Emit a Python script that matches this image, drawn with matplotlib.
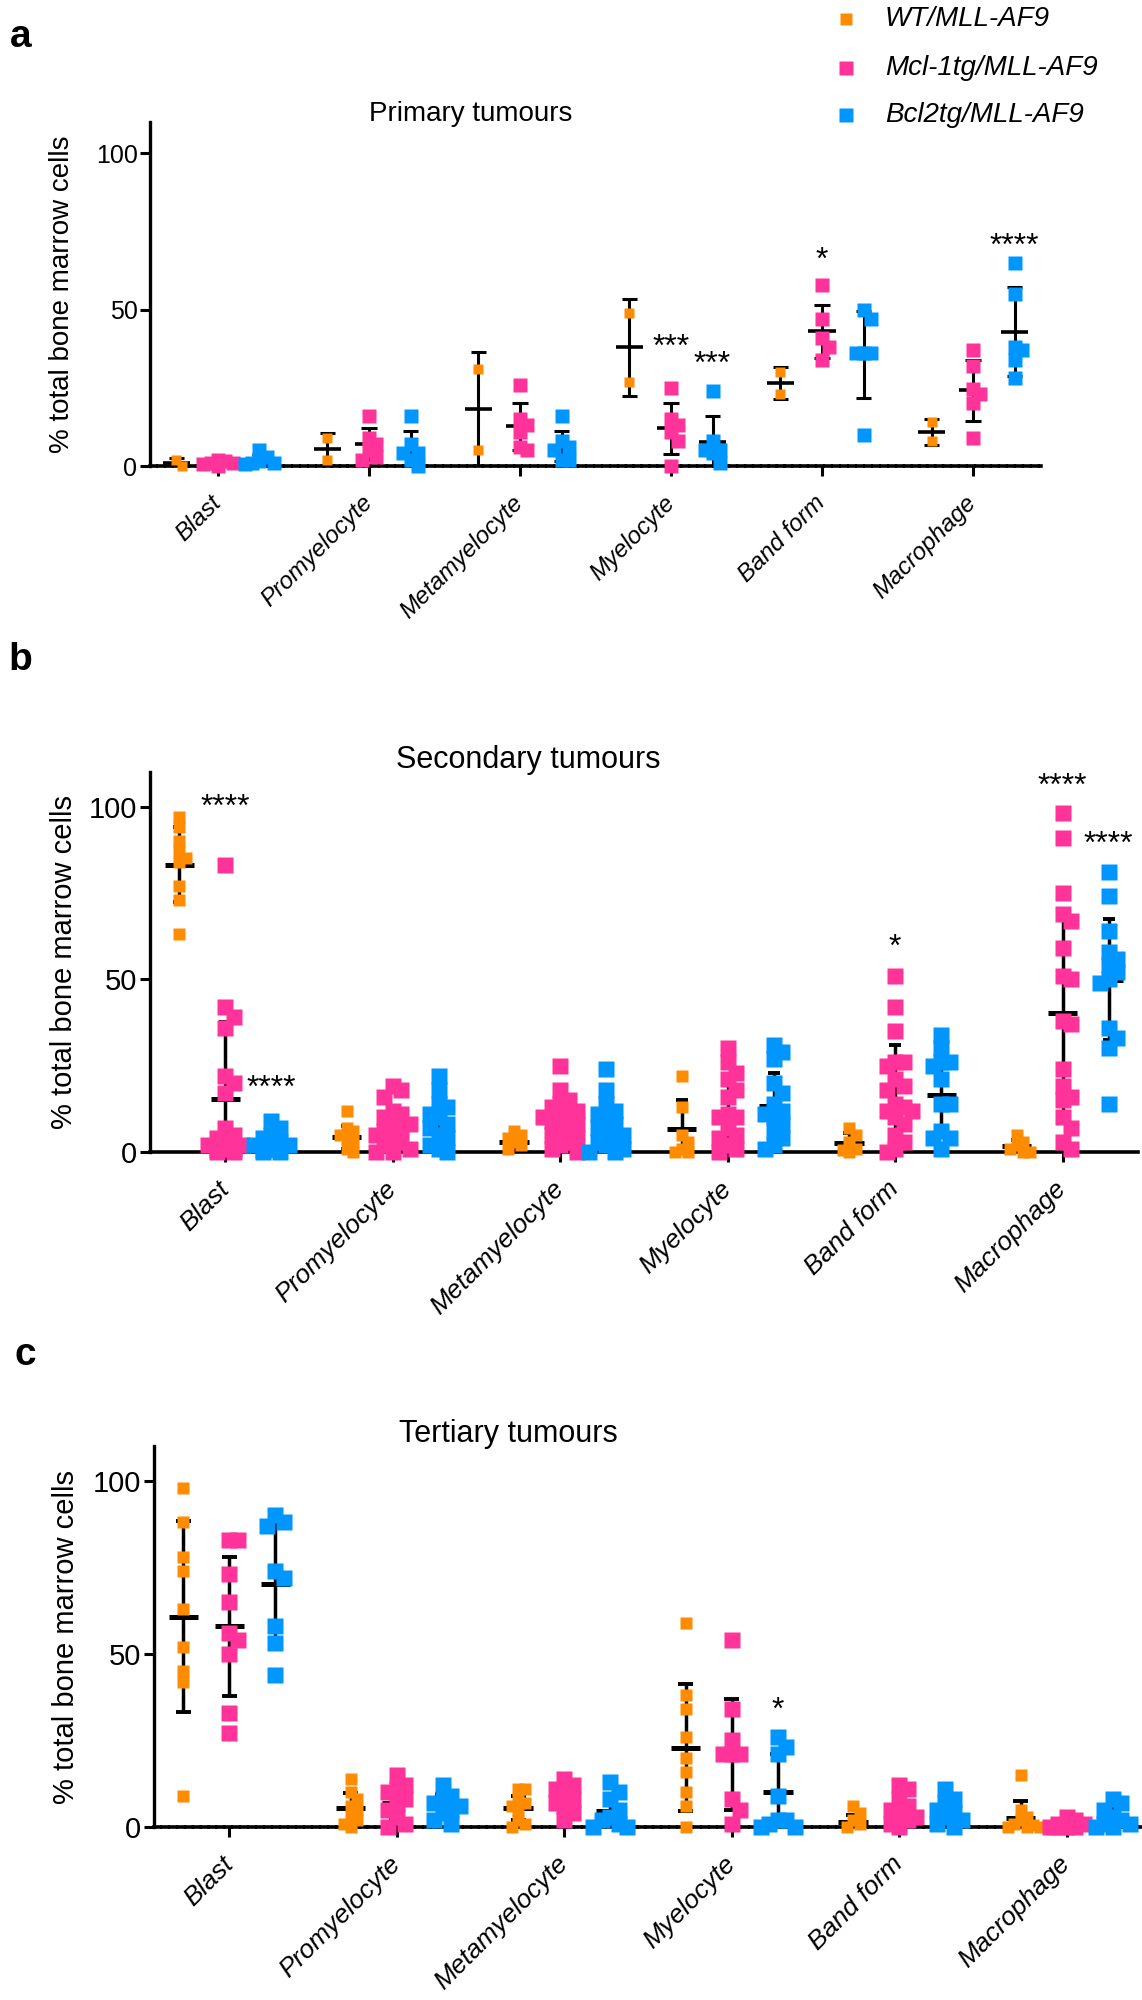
import numpy as np
import matplotlib.pyplot as plt
from matplotlib.lines import Line2D
from matplotlib.transforms import ScaledTranslation

plt.rcParams['font.family'] = ['Liberation Sans', 'DejaVu Sans']

cells = ['Blast', 'Promyelocyte', 'Metamyelocyte', 'Myelocyte', 'Band form', 'Macrophage']
genotypes = ['WT/MLL-AF9', 'Mcl-1tg/MLL-AF9', 'Bcl2tg/MLL-AF9']
colours = ['#FF8C00', '#FF3399', '#0096FF']

# ---- a: primary tumours, % of bone marrow cells per mouse
prim_wt = [[0, 2], [9, 2], [31, 5], [49, 27], [30, 23], [14, 8]]
prim_mcl = [[2, 1.5, 1, 1, 0.5, 0], [16, 9, 7, 5, 3, 2], [26, 15, 13, 11, 6, 5],
            [25, 15, 13, 11, 8, 0], [58, 47, 41, 38, 34], [37, 32, 24.5, 23, 20, 9]]
prim_bcl = [[5, 3, 1.5, 1, 1, 0.5], [16, 7, 4, 4, 2, 0], [16, 8, 6, 5, 2, 2],
            [24, 8, 5, 5, 4, 1], [50, 47, 36, 36, 36, 10], [65, 55, 38, 37, 34, 28]]
prim_mean = [[1, 5.5, 18.1, 37.9, 26.5, 10.9],
             [1, 7, 12.7, 12, 43.1, 24.2],
             [2, 5.5, 6.5, 7.7, 35.7, 42.9]]
prim_sd = [[1.4, 5.1, 18.4, 15.6, 5.1, 4.2],
           [0.8, 5, 7.6, 8.2, 8.5, 9.8],
           [1.7, 5.6, 4.8, 8.4, 14, 14.2]]
prim_stars = [('***', 3, 1, 40.8), ('***', 3, 2, 35.3), ('*', 4, 1, 68.8), ('****', 5, 2, 73)]

# ---- b: secondary tumours
sec_wt = [[97, 94, 90, 87, 85, 84, 77, 73, 63], [12, 7, 6, 5, 4, 3, 1, 0], [6, 5, 4, 3, 2, 1],
          [22, 13, 5, 3, 1, 0, 0], [7, 5, 3, 1, 0.5, 0], [5, 3, 2, 1, 0, 0]]
sec_mcl = [[83, 42, 39, 36, 22, 20, 17, 7, 5, 4, 3, 2, 2, 1, 1, 0.5, 0, 0],
           [19, 18, 16, 12, 11, 10, 8, 8, 7, 6, 5, 4, 3, 2, 1, 0, 0],
           [25, 18, 15, 14, 13, 12, 11, 10, 10, 9, 8, 7, 6, 5, 4, 3, 2, 1, 0],
           [30, 26, 23, 21, 18, 16, 11, 10, 10, 7, 5, 4, 2, 1, 0],
           [51, 42, 35, 26, 26, 25, 21, 19, 18, 14, 13, 12, 12, 10, 8, 5, 3, 1, 0],
           [98, 91, 75, 69, 67, 59, 51, 50, 38, 37, 24, 19, 16, 15, 10, 7, 3, 1]]
sec_bcl = [[9, 7, 5, 4, 3, 2, 2, 1, 1, 0.5, 0, 0],
           [22, 18, 14, 13, 11, 10, 8, 7, 5, 4, 2, 1, 0],
           [24, 18, 14, 12, 11, 10, 8, 7, 6, 5, 4, 3, 2, 1, 0, 0],
           [31, 29, 27, 20, 17, 14, 12, 11, 10, 8, 6, 4, 2, 1],
           [34, 30, 26, 26, 25, 21, 14, 14, 6, 4, 4, 1],
           [81, 74, 64, 58, 56, 54, 52, 50, 49, 36, 33, 30, 14]]
sec_mean = [[83.2, 4.2, 3, 6.6, 2.7, 1.6],
            [15.3, 7.2, 8.5, 11, 18.1, 40.3],
            [2.5, 7.6, 7.3, 13.3, 16.5, 49.9]]
sec_sd = [[10.8, 3.3, 2, 8.4, 2.8, 1.8],
          [22.4, 5.7, 5.6, 9, 13, 29.6],
          [3, 6.4, 6.9, 9.5, 11, 17.6]]
sec_stars = [('****', 0, 1, 102.4), ('****', 0, 2, 21), ('*', 4, 1, 61.8),
             ('****', 5, 1, 108.5), ('****', 5, 2, 91.6)]

# ---- c: tertiary tumours
ter_wt = [[98, 88, 78, 74, 63, 52, 45, 42, 9], [14, 10, 8, 6, 5, 3, 2, 1, 0],
          [11, 11, 8, 7, 6, 5, 2, 1, 0], [59, 38, 34, 26, 20, 16, 10, 6, 0],
          [6, 4, 2, 1, 0], [15, 5, 3, 2, 1, 0.5, 0, 0, 0]]
ter_mcl = [[83, 83, 73, 65, 56, 54, 50, 33, 27], [15, 12, 11, 10, 8, 7, 5, 3, 1, 0],
           [14, 12, 11, 10, 8, 7, 6, 4, 2], [54, 34, 25, 21, 21, 21, 8, 5, 1],
           [12, 11, 8, 6, 5, 4, 3, 2, 1, 0], [3, 2, 1, 1, 0, 0, 0, 0]]
ter_bcl = [[90, 88, 87, 74, 72, 58, 53, 44], [12, 9, 8, 7, 6, 5, 4, 2, 1],
           [13, 10, 8, 5, 3, 2, 1, 0, 0], [26, 23, 21, 9, 2, 2, 1, 0, 0],
           [11, 8, 7, 5, 4, 3, 2, 1, 0], [8, 7, 5, 3, 2, 1, 1, 0, 0]]
ter_mean = [[60.7, 5.4, 5.5, 22.9, 1.5, 2.7],
            [57.9, 7, 8.2, 20.9, 4.5, 1],
            [70.3, 6.3, 4.6, 10.2, 4, 3]]
ter_sd = [[27.6, 4.5, 3.5, 18.4, 2, 4.8],
          [20, 4.5, 4.3, 16, 4, 1.2],
          [17, 3.3, 4.5, 11, 3.8, 2.8]]
ter_stars = [('*', 3, 2, 36.2)]

W, H = 1142, 2000
fig = plt.figure(figsize=(W / 100, H / 100), dpi=100)

panels = [
    dict(letter='a', title='Primary tumours', data=(prim_wt, prim_mcl, prim_bcl),
         mean=prim_mean, sd=prim_sd, stars=prim_stars, dotted=True,
         box=(150, 122, 1041, 466), ms=(7.6, 9.7, 9.7), tick_fs=18, cell_fs=17.5,
         lab_fs=20, title_fs=20, title_xy=(471, 121), ylab_x=62, letter_xy=(10, 47),
         mean_w=0.09, mean_lw=2.6, bar_lw=2.2, cap_w=0.05, cap_lw=2.2),
    dict(letter='b', title='Secondary tumours', data=(sec_wt, sec_mcl, sec_bcl),
         mean=sec_mean, sd=sec_sd, stars=sec_stars, dotted=False,
         box=(150, 772, 1138, 1152), ms=(8.6, 11.2, 11.2), tick_fs=21, cell_fs=19,
         lab_fs=21, title_fs=22, title_xy=(528, 768), ylab_x=64, letter_xy=(8, 670),
         mean_w=0.088, mean_lw=3.6, bar_lw=2.5, cap_w=0.035, cap_lw=2.8),
    dict(letter='c', title='Tertiary tumours', data=(ter_wt, ter_mcl, ter_bcl),
         mean=ter_mean, sd=ter_sd, stars=ter_stars, dotted=True,
         box=(154, 1446, 1142, 1827), ms=(8.4, 11.2, 11.2), tick_fs=21, cell_fs=19,
         lab_fs=21, title_fs=22, title_xy=(508, 1442), ylab_x=66, letter_xy=(14, 1365),
         mean_w=0.088, mean_lw=3.6, bar_lw=2.5, cap_w=0.045, cap_lw=2.8),
]

group_off = 0.275
xmin, xmax, ymax = -0.45, 5.45, 110


def spread(vals, w, h, cap):
    # simple beeswarm: push overlapping squares sideways
    vals = np.asarray(vals, float)
    offs = np.zeros(len(vals))
    step = 0.55 * w
    cands = [0.0]
    k = 1
    while k * step <= cap:
        cands += [k * step, -k * step]
        k += 1
    placed = []
    for i in np.argsort(-vals, kind='stable'):
        best, best_hits = 0.0, None
        for c in cands:
            hits = sum(1 for j in placed
                       if abs(c - offs[j]) < 0.5 * w and abs(vals[i] - vals[j]) < 0.75 * h)
            if best_hits is None or hits < best_hits:
                best, best_hits = c, hits
            if hits == 0:
                break
        offs[i] = best
        placed.append(i)
    return offs


for p in panels:
    l, t, r, b = p['box']
    ax = fig.add_axes([l / W, 1 - b / H, (r - l) / W, (b - t) / H])
    xpx = (r - l) / (xmax - xmin)
    ypx = (b - t) / ymax

    for g in range(3):
        for i in range(6):
            x0 = i + (g - 1) * group_off
            m, s = p['mean'][g][i], p['sd'][g][i]
            ax.plot([x0 - p['mean_w'], x0 + p['mean_w']], [m, m], color='k',
                    lw=p['mean_lw'], solid_capstyle='butt', zorder=2)
            ax.plot([x0, x0], [m - s, m + s], color='k', lw=p['bar_lw'],
                    solid_capstyle='butt', zorder=2)
            for yy in (m - s, m + s):
                ax.plot([x0 - p['cap_w'], x0 + p['cap_w']], [yy, yy], color='k',
                        lw=p['cap_lw'], solid_capstyle='butt', zorder=2)

            vals = p['data'][g][i]
            mpx = p['ms'][g] * 100 / 72
            offs = spread(vals, mpx / xpx, mpx / ypx, 0.13)
            ax.plot(x0 + offs, vals, ls='none', marker='s', ms=p['ms'][g],
                    mfc=colours[g], mec='none', clip_on=False, zorder=3)

    for txt, i, g, yc in p['stars']:
        fs = 23
        ax.annotate(txt, (i + (g - 1) * group_off, yc), xytext=(0, -0.55 * fs),
                    textcoords='offset points', ha='center', va='baseline',
                    fontsize=fs, zorder=4)

    ax.set_xlim(xmin, xmax)
    ax.set_ylim(0, ymax)
    ax.set_yticks([0, 50, 100])
    ax.set_xticks(range(6))
    ax.set_xticklabels(cells, rotation=45, ha='right', va='center',
                       rotation_mode='anchor', fontstyle='italic', fontsize=p['cell_fs'])
    shift = ScaledTranslation(9 / 100, 0, fig.dpi_scale_trans)
    for lab in ax.get_xticklabels():
        lab.set_transform(lab.get_transform() + shift)
    ax.tick_params(axis='y', length=7.5, width=2.2, pad=1.5, labelsize=p['tick_fs'])
    ax.tick_params(axis='x', length=7, width=2.2, pad=17)
    for side in ('top', 'right'):
        ax.spines[side].set_visible(False)
    ax.spines['left'].set_linewidth(2.4)
    ax.spines['bottom'].set_linewidth(2.6)
    if p['dotted']:
        ax.spines['bottom'].set_linestyle((0, (1.6, 0.6)))
    ax.patch.set_alpha(0)

    fig.text(p['title_xy'][0] / W, 1 - p['title_xy'][1] / H, p['title'],
             ha='center', va='baseline', fontsize=p['title_fs'])
    fig.text(p['ylab_x'] / W, 1 - (t + b) / 2 / H, '% total bone marrow cells',
             rotation=90, ha='center', va='center', fontsize=p['lab_fs'])
    fig.text(p['letter_xy'][0] / W, 1 - p['letter_xy'][1] / H, p['letter'],
             ha='left', va='baseline', fontsize=28, fontweight='bold')

# legend at the top right
leg_y = [19, 68, 115]
leg_ms = [8, 10.5, 10.5]
for g in range(3):
    fig.add_artist(Line2D([846 / W], [1 - leg_y[g] / H], transform=fig.transFigure,
                          ls='none', marker='s', ms=leg_ms[g], mfc=colours[g], mec='none'))
    fig.text(885 / W, 1 - leg_y[g] / H, genotypes[g], ha='left', va='center',
             fontsize=20, fontstyle='italic')

fig.savefig('out.png', dpi=100)
